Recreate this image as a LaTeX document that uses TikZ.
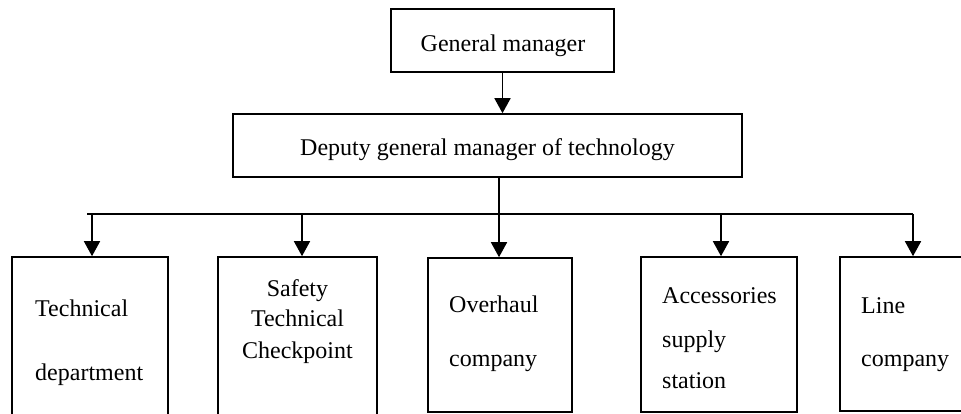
\documentclass[tikz,border=0pt]{standalone}
\usepackage{fontspec}
\setmainfont{Liberation Serif}
\usetikzlibrary{arrows.meta}
\begin{document}
\begin{tikzpicture}[x=1pt,y=-1pt,
  box/.style={draw,line width=1.6pt,rectangle,inner sep=0pt},
  conn/.style={line width=1.6pt},
  arr/.style={line width=1.6pt,-{Triangle[length=15pt,width=16pt]}},
  lbl/.style={inner sep=0pt,font=\fontsize{24}{28}\selectfont}]
\useasboundingbox (0,0) rectangle (961,414);
\clip (0,0) rectangle (961,414);
% top boxes
\node[box,minimum width=223pt,minimum height=63pt] (gm) at (502.5,40.5) {};
\node[box,minimum width=509pt,minimum height=63pt] (dep) at (487.5,145.5) {};
\node[lbl,anchor=base] (gmt) at (503,51.5) {General manager};
\node[lbl,anchor=base] (dept) at (487.5,156) {Deputy general manager of technology};
% bottom boxes
\node[box,minimum width=156pt,minimum height=163pt] (b1) at (90,338.5) {};
\node[box,minimum width=159pt,minimum height=163pt] (b2) at (297.5,338.5) {};
\node[box,minimum width=144pt,minimum height=154pt] (b3) at (500,335) {};
\node[box,minimum width=156pt,minimum height=155pt] (b4) at (719,334.5) {};
\node[box,minimum width=130pt,minimum height=154pt] (b5) at (905,334) {};
% texts
\node[lbl,anchor=base west] (t1a) at (35,316) {Technical};
\node[lbl,anchor=base west] (t1b) at (35,380) {department};
\node[lbl,anchor=base] (t2a) at (297.5,296) {Safety};
\node[lbl,anchor=base] (t2b) at (297.5,326) {Technical};
\node[lbl,anchor=base] (t2c) at (297.5,358) {Checkpoint};
\node[lbl,anchor=base west] (t3a) at (449,312) {Overhaul};
\node[lbl,anchor=base west] (t3b) at (449,366) {company};
\node[lbl,anchor=base west] (t4a) at (662,303) {Accessories};
\node[lbl,anchor=base west] (t4b) at (662,347) {supply};
\node[lbl,anchor=base west] (t4c) at (662,388) {station};
\node[lbl,anchor=base west] (t5a) at (861,313) {Line};
\node[lbl,anchor=base west] (t5b) at (861,366) {company};
% connectors
\draw[arr] (gm.south) -- (gm.south |- dep.north);
\coordinate (busL) at (87,214);
\coordinate (busR) at (913,214);
\coordinate (c1) at (92,214);
\coordinate (c2) at (302,214);
\coordinate (c3) at (499,214);
\coordinate (c4) at (721,214);
\coordinate (c5) at (913,214);
\draw[conn] (busL) -- (busR);
\draw[arr] (c3 |- dep.south) -- (c3 |- b3.north);
\draw[arr] (c1) -- (c1 |- b1.north);
\draw[arr] (c2) -- (c2 |- b2.north);
\draw[arr] (c4) -- (c4 |- b4.north);
\draw[arr] (c5) -- (c5 |- b5.north);
\end{tikzpicture}
\end{document}
